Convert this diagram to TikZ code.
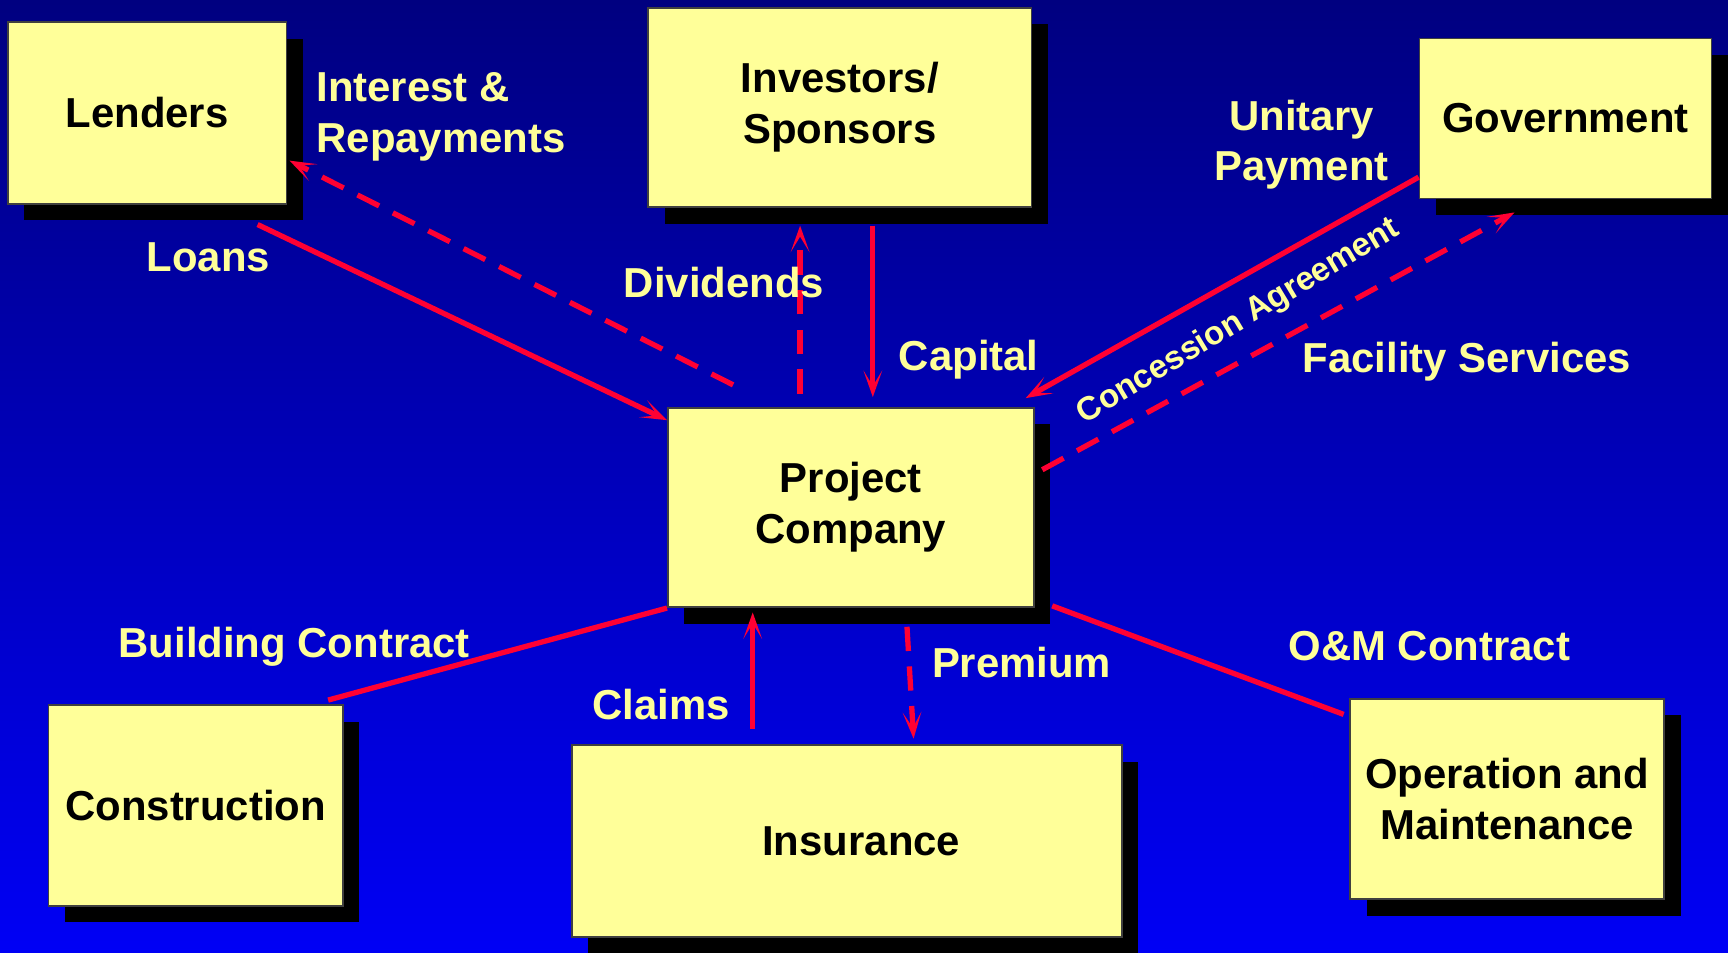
\documentclass[tikz,border=0pt]{standalone}
\usepackage{fontspec}
\setmainfont{Liberation Sans}
\usetikzlibrary{arrows.meta,shadows,calc}
\definecolor{navytop}{RGB}{0,0,128}
\definecolor{bluebot}{RGB}{0,0,245}
\definecolor{paleyellow}{RGB}{255,255,153}
\definecolor{flowred}{RGB}{255,0,51}
\definecolor{rimgray}{RGB}{64,64,64}
\begin{document}
\begin{tikzpicture}[x=1pt,y=-1pt,
  party/.style={draw=rimgray, line width=1.5pt, fill=paleyellow, inner sep=0pt,
    align=center, text=black, font=\fontsize{38}{46}\selectfont\bfseries,
    drop shadow={shadow xshift=15pt, shadow yshift=-15pt, fill=black, draw=none, opacity=1}},
  flowlabel/.style={text=paleyellow, inner sep=0pt, font=\fontsize{38}{46}\selectfont\bfseries},
  tip/.style={-{Stealth[length=24pt,width=17pt,inset=14pt]}},
  flow/.style={draw=flowred, line width=4.8pt},
  dashflow/.style={flow, dash pattern=on 22pt off 14pt},
]
\useasboundingbox (0,0) rectangle (1568,864);
\shade[top color=navytop, bottom color=bluebot] (0,0) rectangle (1568,864);

% parties
\node[party, minimum width=253pt, minimum height=165pt] (lenders) at (133.5,102.5) {Lenders};
\node[party, minimum width=348pt, minimum height=181pt] (investors) at (762,97.5) {Investors/\\Sponsors\hspace*{0pt}};
\node[party, minimum width=265pt, minimum height=145pt] (government) at (1420.5,107.5) {Government};
\node[party, minimum width=332pt, minimum height=181pt] (company) at (772,460.5) {Project\\Company};
\node[party, minimum width=267pt, minimum height=182pt] (construction) at (177.5,731) {Construction};
\node[party, minimum width=499pt, minimum height=174pt] (insurance) at (768.5,763) {\hspace*{26pt}Insurance};
\node[party, minimum width=285pt, minimum height=182pt] (om) at (1367.5,725) {Operation and\\Maintenance};

% flows
\draw[flow, tip] ($(lenders.south east)+(-27,18)$) -- ($(company.north west)+(0,12)$);
\draw[dashflow, tip] ($(company.north west)+(60,-20)$) -- ($(lenders.south east)+(2,-40)$);
\draw[dashflow, tip] ($(company.north)+(-46,-12)$) -- ($(investors.south)+(-36,16)$);
\draw[flow, tip] ($(investors.south)+(30,16)$) -- ($(company.north)+(20,-9)$);
\draw[flow, tip] ($(government.south west)+(0,-20)$) -- ($(company.north east)+(-8,-8)$);
\draw[dashflow, tip] ($(company.north east)+(7,57)$) -- ($(government.south west)+(87,12)$);
\draw[flow] ($(construction.north east)+(-14,-4)$) -- (company.south west);
\draw[flow, tip] ($(insurance.north)+(-85.5,-14)$) -- ($(company.south)+(-89,4)$);
\draw[dashflow, tip] ($(company.south)+(51,17)$) -- ($(insurance.north)+(60.5,-5)$);
\draw[flow] ($(company.south east)+(16,-2)$) -- ($(om.north west)+(-5,15)$);

% flow labels (base anchor of a two-line label sits on its last line)
\node[flowlabel, anchor=base west, align=left] (interest) at (287,138) {Interest \&\\Repayments};
\node[flowlabel, anchor=base] (loans) at (189,246) {Loans};
\node[flowlabel, anchor=base] (dividends) at (657,270) {Dividends};
\node[flowlabel, anchor=base] (capital) at (879,336) {Capital};
\node[flowlabel, anchor=base, align=center] (unitary) at (1181,164) {Unitary\\Payment};
\node[flowlabel, anchor=base] (facility) at (1331,338) {Facility Services};
\node[flowlabel, anchor=base] (building) at (267,597) {Building Contract};
\node[flowlabel, anchor=base] (claims) at (600,653) {Claims};
\node[flowlabel, anchor=base] (premium) at (927,615) {Premium};
\node[flowlabel, anchor=base] (omcontract) at (1297,599) {O\&M Contract};
\node[flowlabel, font=\fontsize{30}{36}\selectfont\bfseries, rotate=31] (concession) at (1124,292) {Concession Agreement};
\end{tikzpicture}
\end{document}
